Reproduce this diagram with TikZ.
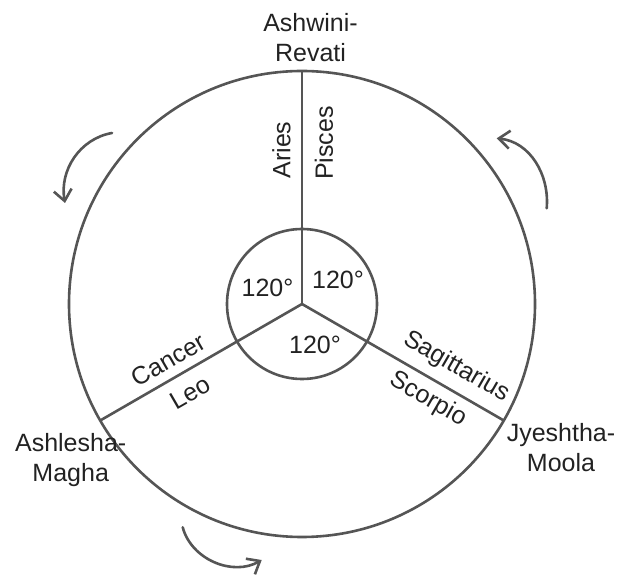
\documentclass[tikz,border=0pt]{standalone}
\usepackage{fontspec}
\setmainfont{Liberation Sans}
\usetikzlibrary{arrows.meta,calc}
\definecolor{ln}{HTML}{555555}
\definecolor{txt}{HTML}{222222}
\begin{document}
\begin{tikzpicture}[x=1pt,y=1pt,
  lw/.style={draw=ln, line width=2.6pt},
  arr/.style={draw=ln, line width=2.6pt, line cap=round, -{Straight Barb[length=11pt,width=18pt]}},
  lab/.style={text=txt, inner sep=0pt, font=\fontsize{25}{30}\selectfont, align=center}]
\useasboundingbox (0,0) rectangle (618,578);
\coordinate (C) at (302,274);
\draw[lw] (C) circle[radius=233pt];
\draw[lw] (C) circle[radius=75pt];
\path (C) ++(90:233) coordinate (T);
\path (C) ++(210:233) coordinate (L);
\path (C) ++(330:233) coordinate (R);
\draw[lw] (C) -- (T);
\draw[lw] (C) -- (L);
\draw[lw] (C) -- (R);
% outer labels
\node[lab] (ashw) at (310.5,540.5) {Ashwini-\\Revati};
\node[lab] (ashl) at (70.7,117.5) {Ashlesha-\\Magha};
\node[lab] (jyes) at (561,130) {Jyeshtha-\\Moola};
% sign labels
\node[lab, rotate=90] (aries) at (281.5,428) {Aries};
\node[lab, rotate=90] (pisces) at (324,435) {Pisces};
\node[lab, rotate=30] (cancer) at (168.5,218) {Cancer};
\node[lab, rotate=30] (leo) at (190,185) {Leo};
\node[lab, rotate=-30] (sag) at (456.7,211) {Sagittarius};
\node[lab, rotate=-30] (scorp) at (428,178.5) {Scorpio};
% angles
\node[lab] (d1) at (267.5,290) {120°};
\node[lab] (d2) at (338,298) {120°};
\node[lab] (d3) at (315,233) {120°};
% rotation arrows
\coordinate (a1s) at (112,445);
\coordinate (a1e) at (65,375);
\draw[arr] (a1s) to[out=190,in=100] (a1e);
\coordinate (a2s) at (546.7,369.7);
\coordinate (a2e) at (496.7,439.7);
\draw[arr] (a2s) to[out=85,in=354] (a2e);
\coordinate (a3s) at (182.7,50.7);
\coordinate (a3e) at (261.7,18);
\draw[arr] (a3s) to[out=285,in=210] (a3e);
\end{tikzpicture}
\end{document}
